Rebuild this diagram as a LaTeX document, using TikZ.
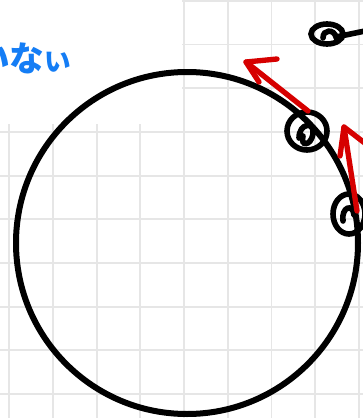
\documentclass[tikz,border=0pt]{standalone}
\usepackage{fontspec}
\newfontfamily\jpfont{Noto Sans CJK JP}[BoldFont={Noto Sans CJK JP Black}]
\usetikzlibrary{positioning}
\definecolor{penred}{RGB}{214,0,0}
\definecolor{penblue}{RGB}{20,125,245}
\definecolor{gridgray}{RGB}{230,230,230}
\tikzset{
    gridline/.style={draw=gridgray, line width=1.4pt},
    blackpen/.style={draw=black, line width=4.5pt, line cap=round, line join=round},
    redpen/.style={draw=penred, line width=4pt, line cap=round, line join=round},
    scribble/.style={draw=black, line width=4.2pt, line cap=round},
}
\begin{document}
\begin{tikzpicture}[x=0.75pt, y=-0.75pt]
        \useasboundingbox (0, 0) rectangle (363, 418);
        \fill[white] (0, 0) rectangle (363, 418);

        % grid paper
        \foreach \gx in {0,...,8} {
            \draw[gridline] (9.3 + 43.7*\gx, 0) -- (9.3 + 43.7*\gx, 418);
        }
        \foreach \gy in {0,...,9} {
            \draw[gridline] (0, 0.8 + 43.7*\gy) -- (363, 0.8 + 43.7*\gy);
        }
        \fill[white] (0, 0) rectangle (182, 124);

        % text
        \node[anchor=base west, inner sep=0pt, text=penblue, font=\jpfont\bfseries\fontsize{26}{26}\selectfont] (word) at (-25, 71) {いな{\fontsize{20}{20}\selectfont い}};

        % circle
        \coordinate (centre) at (187, 243);
        \draw[blackpen] (centre) circle [radius=171];

        % scribbles on the circle
        \coordinate (blobA) at (307, 131);
        \coordinate (blobB) at (349, 214);
        \draw[scribble] (blobA) ellipse [x radius=20, y radius=19];
        \draw[scribble] (299, 138) .. controls (299, 123) and (315, 121) .. (313, 134)
                                   .. controls (311, 146) and (300, 147) .. (303, 136);
        \draw[scribble] (blobB) ellipse [x radius=16, y radius=20];
        \draw[scribble] (343, 221) .. controls (341, 207) and (353, 203) .. (354, 215);

        % mark at the top right
        \coordinate (tagend) at (365, 31);
        \draw[scribble] (327, 34) ellipse [x radius=16, y radius=10];
        \draw[scribble] (323, 38) .. controls (323, 29) and (334, 29) .. (336, 37) -- (tagend);

        % red arrows
        \coordinate (tailA) at (308, 111);
        \coordinate (tipA) at (246, 62);
        \coordinate (barbAa) at (277, 59);
        \coordinate (barbAb) at (259, 82);
        \draw[redpen] (tailA) -- (tipA);
        \draw[redpen] (barbAa) -- (tipA) -- (barbAb);

        \coordinate (tailB) at (357, 211);
        \coordinate (tipB) at (344, 127);
        \coordinate (barbBa) at (340, 156);
        \coordinate (barbBb) at (366, 144);
        \draw[redpen] (tailB) -- (tipB);
        \draw[redpen] (barbBa) -- (tipB) -- (barbBb);
\end{tikzpicture}
\end{document}
